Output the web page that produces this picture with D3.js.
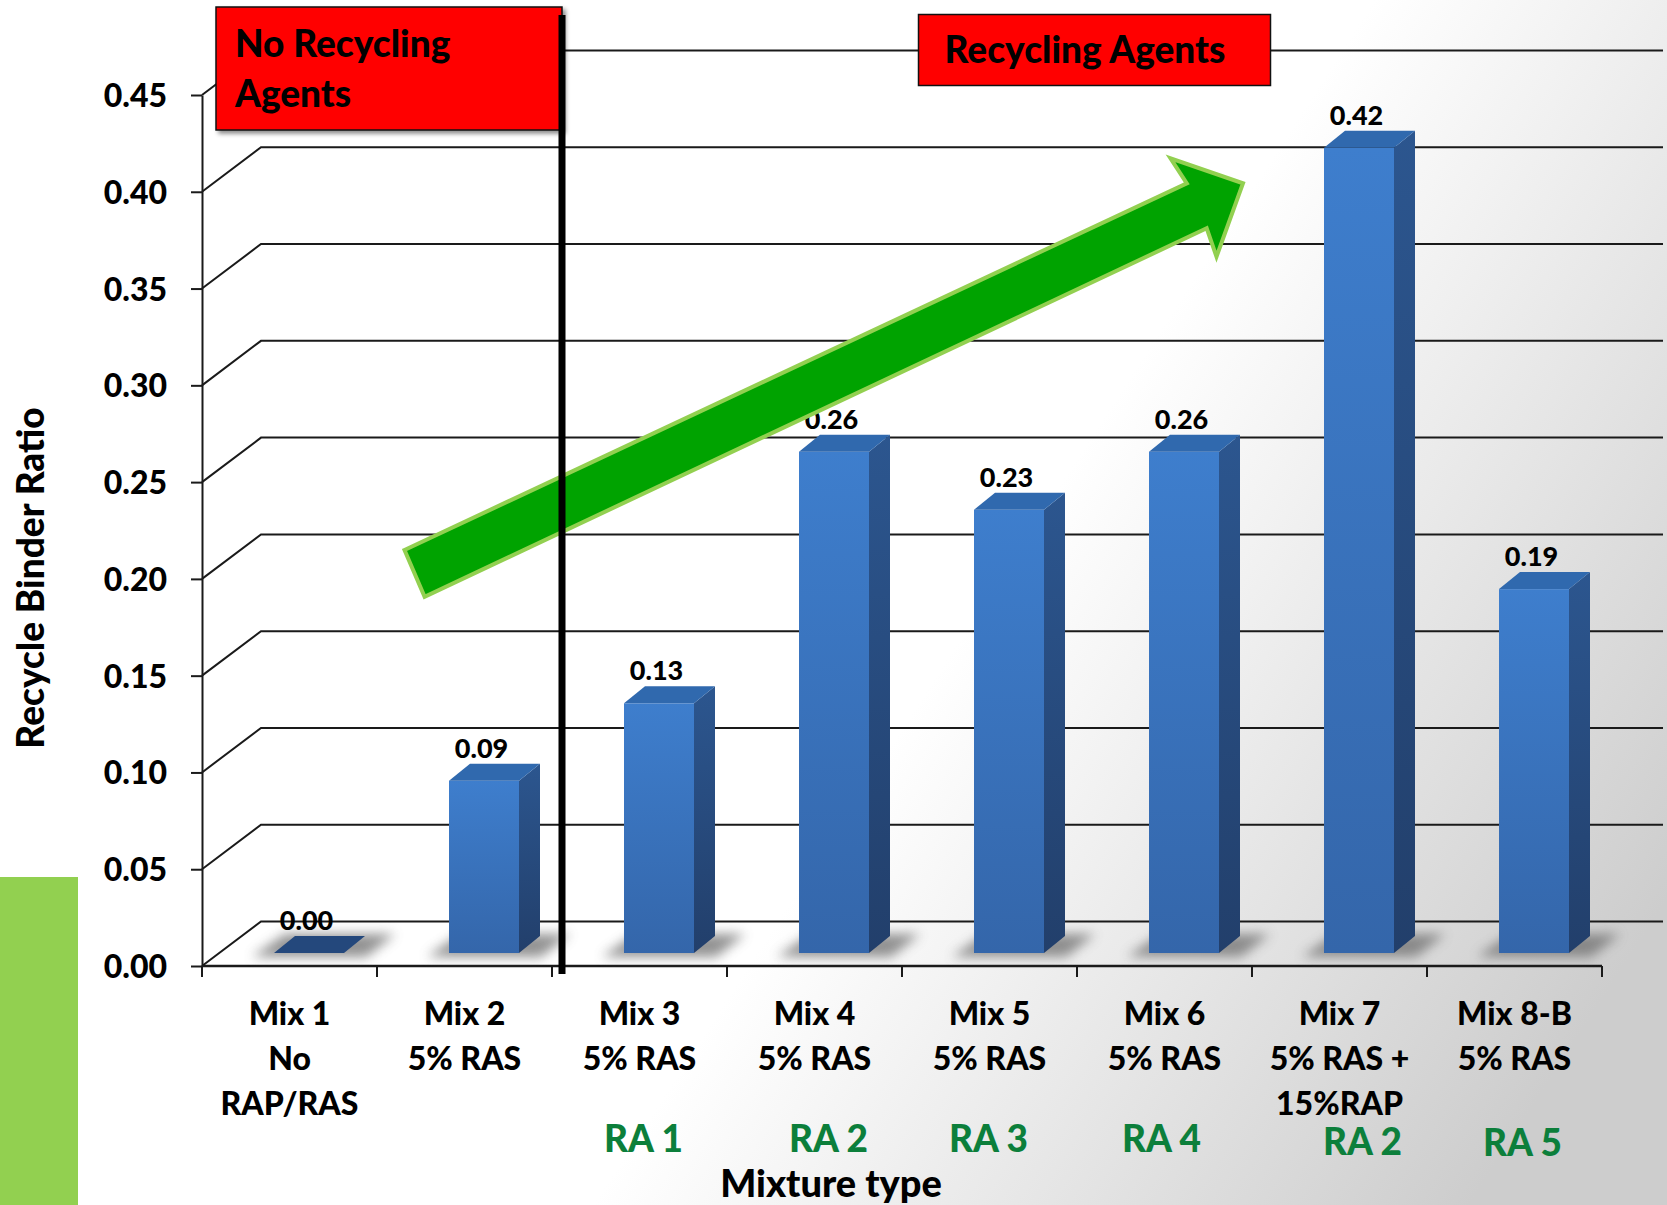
<!DOCTYPE html>
<html>
<head>
<meta charset="utf-8">
<script src="https://cdn.jsdelivr.net/npm/d3@7/dist/d3.min.js"></script>
<style>
body { margin: 0; background: #fff; }
svg text { font-family: Lato, "Open Sans", sans-serif; font-weight: 900; }
</style>
</head>
<body>
<div id="chart"></div>
<script>
// chart values
var mixes = ["Mix 1", "Mix 2", "Mix 3", "Mix 4", "Mix 5", "Mix 6", "Mix 7", "Mix 8-B"];
var mixSub = [["No", "RAP/RAS"], ["5% RAS"], ["5% RAS"], ["5% RAS"], ["5% RAS"], ["5% RAS"], ["5% RAS +", "15%RAP"], ["5% RAS"]];
var ratio = [0.00, 0.089, 0.129, 0.259, 0.229, 0.259, 0.416, 0.188];
var agents = ["", "", "RA 1", "RA 2", "RA 3", "RA 4", "RA 2", "RA 5"];
var yTicks = [0, 0.05, 0.10, 0.15, 0.20, 0.25, 0.30, 0.35, 0.40, 0.45];

// small nudges of the green RA text boxes (they are hand placed on the slide)
var agentNudge = [[0, 0], [0, 0], [4, 0], [14, 0], [-1, 0], [-3, 0], [23, 3], [8, 4]];

var W = 1667, H = 1205;
var wall = {dx: 59, dy: -44.5};      // depth of the floor / side wall
var barOff = {dx: 19.5, dy: -13};    // bar front face sits inside the floor
var barDep = {dx: 21, dy: -17};      // depth of each column

var svg = d3.select("#chart").append("svg")
    .attr("width", W)
    .attr("height", H);

var defs = svg.append("defs");

var bg = defs.append("linearGradient").attr("id", "bg")
    .attr("gradientUnits", "userSpaceOnUse")
    .attr("x1", 1050).attr("y1", 500).attr("x2", 1667).attr("y2", 900);
bg.append("stop").attr("offset", 0).attr("stop-color", "#ffffff");
bg.append("stop").attr("offset", 1).attr("stop-color", "#cdcdcd");

var front = defs.append("linearGradient").attr("id", "front")
    .attr("x1", 0).attr("y1", 0).attr("x2", 0).attr("y2", 1);
front.append("stop").attr("offset", 0).attr("stop-color", "#3e7ecd");
front.append("stop").attr("offset", 1).attr("stop-color", "#3466aa");

var side = defs.append("linearGradient").attr("id", "side")
    .attr("x1", 0).attr("y1", 0).attr("x2", 0).attr("y2", 1);
side.append("stop").attr("offset", 0).attr("stop-color", "#2c568f");
side.append("stop").attr("offset", 1).attr("stop-color", "#223f6b");

defs.append("filter").attr("id", "blur")
    .attr("x", "-50%").attr("y", "-100%").attr("width", "200%").attr("height", "300%")
    .append("feGaussianBlur").attr("stdDeviation", 6);

defs.append("filter").attr("id", "drop")
    .append("feDropShadow")
    .attr("dx", 3).attr("dy", 3).attr("stdDeviation", 2)
    .attr("flood-color", "#000").attr("flood-opacity", 0.45);

svg.append("rect").attr("width", W).attr("height", H).attr("fill", "url(#bg)");

// green strip of the slide template
svg.append("rect")
    .attr("x", 0).attr("y", 877).attr("width", 78).attr("height", H - 877)
    .attr("fill", "#92d050");

var x = d3.scaleBand().domain(mixes).range([202, 1602]);
var y = d3.scaleLinear().domain([0, 0.45]).range([966, 95]);

// walls and gridlines
svg.append("g").selectAll("path")
    .data(yTicks)
    .enter().append("path")
    .attr("d", function(d) {
        return "M" + 202 + "," + y(d) + "L" + (202 + wall.dx) + "," + (y(d) + wall.dy) +
            "L" + 1663 + "," + (y(d) + wall.dy);
    })
    .attr("fill", "none")
    .attr("stroke", "#1a1a1a")
    .attr("stroke-width", 2);

var yAxis = d3.axisLeft(y)
    .tickValues(yTicks)
    .tickFormat(d3.format(".2f"))
    .tickSize(11)
    .tickSizeOuter(0)
    .tickPadding(24);

var gy = svg.append("g")
    .attr("transform", "translate(202,0)")
    .call(yAxis);
gy.select(".domain").attr("stroke", "#1a1a1a").attr("stroke-width", 2);
gy.selectAll(".tick line").attr("stroke", "#1a1a1a").attr("stroke-width", 2);
gy.selectAll(".tick text")
    .attr("fill", "#000")
    .style("font-size", "32px")
    .attr("dy", "0.36em");

// x axis, ticks on band edges
var gx = svg.append("g");
gx.append("line")
    .attr("x1", x.range()[0]).attr("x2", x.range()[1])
    .attr("y1", y(0)).attr("y2", y(0))
    .attr("stroke", "#1a1a1a").attr("stroke-width", 2.5);
gx.selectAll(".tk")
    .data(mixes.map(function(m) { return x(m); }).concat([x.range()[1]]))
    .enter().append("line")
    .attr("class", "tk")
    .attr("x1", function(d) { return d; }).attr("x2", function(d) { return d; })
    .attr("y1", y(0)).attr("y2", y(0) + 11)
    .attr("stroke", "#1a1a1a").attr("stroke-width", 2);

var data = mixes.map(function(m, i) { return {mix: m, v: ratio[i], i: i}; });
var bw = x.bandwidth() * 0.4;
var fx = function(d) { return x(d.mix) + x.bandwidth() / 2 + barOff.dx - bw / 2; };
var yb = y(0) + barOff.dy;
var yt = function(d) { return y(d.v) + barOff.dy; };

// soft shadows at the column feet
svg.append("g").selectAll("path")
    .data(data)
    .enter().append("path")
    .attr("d", function(d) {
        var a = fx(d);
        return "M" + (a - 22) + "," + (yb + 4) + "L" + (a + bw + 22) + "," + (yb + 4) +
            "L" + (a + bw + barDep.dx + 30) + "," + (yb + barDep.dy - 2) +
            "L" + (a + barDep.dx - 10) + "," + (yb + barDep.dy - 2) + "Z";
    })
    .attr("fill", "#6e6e6e")
    .attr("opacity", 0.75)
    .attr("filter", "url(#blur)");

var bars = svg.append("g").selectAll("g")
    .data(data)
    .enter().append("g");

bars.filter(function(d) { return d.v > 0; }).append("rect")
    .attr("x", fx)
    .attr("y", yt)
    .attr("width", bw)
    .attr("height", function(d) { return yb - yt(d); })
    .attr("fill", "url(#front)");

bars.filter(function(d) { return d.v > 0; }).append("path")
    .attr("d", function(d) {
        var a = fx(d) + bw, t = yt(d);
        return "M" + a + "," + t + "L" + (a + barDep.dx) + "," + (t + barDep.dy) +
            "L" + (a + barDep.dx) + "," + (yb + barDep.dy) + "L" + a + "," + yb + "Z";
    })
    .attr("fill", "url(#side)");

bars.append("path")
    .attr("d", function(d) {
        var a = fx(d), t = yt(d);
        return "M" + a + "," + t + "L" + (a + barDep.dx) + "," + (t + barDep.dy) +
            "L" + (a + bw + barDep.dx) + "," + (t + barDep.dy) + "L" + (a + bw) + "," + t + "Z";
    })
    .attr("fill", function(d) { return d.v > 0 ? "#3069ae" : "#24487c"; });

// value labels
svg.append("g").selectAll("text")
    .data(data)
    .enter().append("text")
    .attr("x", function(d) { return fx(d) + bw / 2 - 2.5; })
    .attr("y", function(d) { return yt(d) + barDep.dy - 6; })
    .attr("text-anchor", "middle")
    .style("font-size", "27px")
    .text(function(d) { return d3.format(".2f")(d.v); });

// category labels
var cat = svg.append("g").selectAll("text")
    .data(data)
    .enter().append("text")
    .attr("text-anchor", "middle")
    .style("font-size", "32px");
cat.append("tspan")
    .attr("x", function(d) { return x(d.mix) + x.bandwidth() / 2; })
    .attr("y", y(0) + 59)
    .text(function(d) { return d.mix; });
cat.each(function(d) {
    var t = d3.select(this);
    mixSub[d.i].forEach(function(s, k) {
        t.append("tspan")
            .attr("x", x(d.mix) + x.bandwidth() / 2)
            .attr("y", y(0) + 104 + k * 45)
            .text(s);
    });
});

svg.append("g").selectAll("text")
    .data(data.filter(function(d) { return agents[d.i] != ""; }))
    .enter().append("text")
    .attr("x", function(d) { return x(d.mix) + x.bandwidth() / 2 + agentNudge[d.i][0]; })
    .attr("y", function(d) { return y(0) + 186 + agentNudge[d.i][1]; })
    .attr("text-anchor", "middle")
    .attr("fill", "#0c7f3b")
    .style("font-size", "37px")
    .text(function(d) { return agents[d.i]; });

svg.append("text")
    .attr("x", 831)
    .attr("y", 1197)
    .attr("text-anchor", "middle")
    .style("font-size", "38px")
    .text("Mixture type");

svg.append("text")
    .attr("transform", "translate(44,578) rotate(-90)")
    .attr("text-anchor", "middle")
    .style("font-size", "37px")
    .text("Recycle Binder Ratio");

// red annotation boxes
svg.append("rect")
    .attr("x", 216).attr("y", 7).attr("width", 346).attr("height", 123)
    .attr("fill", "#ff0000").attr("stroke", "#111").attr("stroke-width", 1.5)
    .attr("filter", "url(#drop)");
var t1 = svg.append("text").style("font-size", "37px");
t1.append("tspan").attr("x", 235).attr("y", 57).text("No Recycling");
t1.append("tspan").attr("x", 235).attr("y", 107).text("Agents");

svg.append("rect")
    .attr("x", 918.5).attr("y", 14.5).attr("width", 352).attr("height", 71)
    .attr("fill", "#ff0000").attr("stroke", "#111").attr("stroke-width", 1.5);
svg.append("text")
    .attr("x", 1085).attr("y", 63)
    .attr("text-anchor", "middle")
    .style("font-size", "37px")
    .text("Recycling Agents");

// trend arrow
var arrowPts = [[404.5, 550], [1186.8, 183.3], [1170.5, 158.3], [1243, 183.3],
    [1216.5, 256.7], [1206.7, 228.3], [424.6, 596.7]];
svg.append("path")
    .attr("d", d3.line()(arrowPts) + "Z")
    .attr("fill", "#00a300")
    .attr("stroke", "#92d050")
    .attr("stroke-width", 4)
    .attr("stroke-linejoin", "miter");

// divider between the two groups
svg.append("line")
    .attr("x1", 562).attr("x2", 562)
    .attr("y1", 15).attr("y2", 974)
    .attr("stroke", "#000")
    .attr("stroke-width", 7);
</script>
</body>
</html>
